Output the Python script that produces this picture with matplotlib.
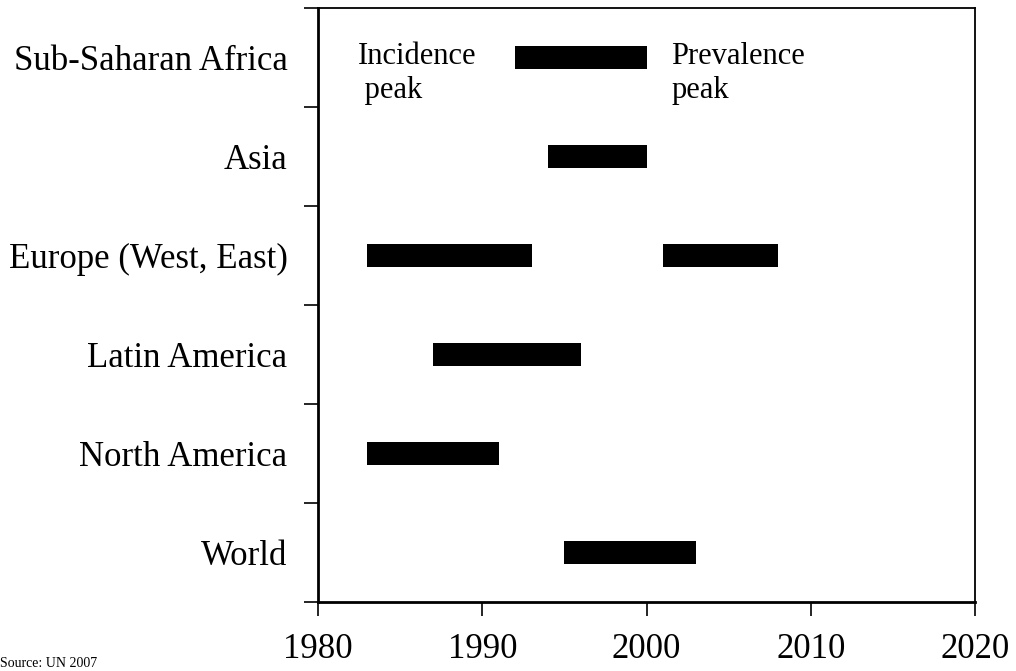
import numpy as np
import matplotlib.pyplot as plt
from matplotlib.ticker import FixedLocator

plt.rcParams['font.family'] = ['Liberation Serif', 'DejaVu Serif']

# regions, bottom to top
regions = ["World", "North America", "Latin America", "Europe (West, East)", "Asia", "Sub-Saharan Africa"]
# peak periods as (start, end) years; Europe has two bars
peak_start = [1995, 1983, 1987, 1983, 1994, 1992]
peak_end = [2003, 1991, 1996, 1993, 2000, 2000]
extra_region = "Europe (West, East)"
extra_start = 2001
extra_end = 2008
years = [1980, 1990, 2000, 2010, 2020]

fig = plt.figure(figsize=(10.16, 6.71), dpi=100)
ax = fig.add_axes([0.313, 0.1028, 0.6467, 0.8852])

ypos = np.arange(len(regions))
widths = np.array(peak_end) - np.array(peak_start)
ax.barh(ypos, widths, left=peak_start, height=0.23, color='black')
ey = regions.index(extra_region)
ax.barh([ey], [extra_end - extra_start], left=[extra_start], height=0.23, color='black')

ax.set_xlim(years[0], years[-1])
ax.set_ylim(-0.5, len(regions) - 0.5)
ax.set_xticks(years)
ax.set_xticklabels([str(y) for y in years], fontsize=25)
ax.tick_params(axis='x', direction='out', length=10, width=1.2, pad=12)

# boundary ticks as major, labels at category centres as minor
ax.yaxis.set_major_locator(FixedLocator(np.arange(-0.5, len(regions), 1.0)))
ax.set_yticklabels([])
ax.yaxis.set_minor_locator(FixedLocator(ypos))
ax.set_yticklabels(regions, minor=True, fontsize=25)
ax.tick_params(axis='y', which='major', direction='out', length=10, width=1.2)
ax.tick_params(axis='y', which='minor', length=0, pad=22)

for side in ['left', 'bottom']:
    ax.spines[side].set_linewidth(2)
for side in ['top', 'right']:
    ax.spines[side].set_linewidth(1.3)

ax.text(1982.4, 4.84, "Incidence\n peak", fontsize=22, va='center', ha='left', linespacing=1.2)
ax.text(2001.5, 4.84, "Prevalence\npeak", fontsize=22, va='center', ha='left', linespacing=1.2)

fig.text(0.0, 0.002, "Source: UN 2007", fontsize=10, ha='left', va='bottom')

fig.savefig("out.png", dpi=100)
